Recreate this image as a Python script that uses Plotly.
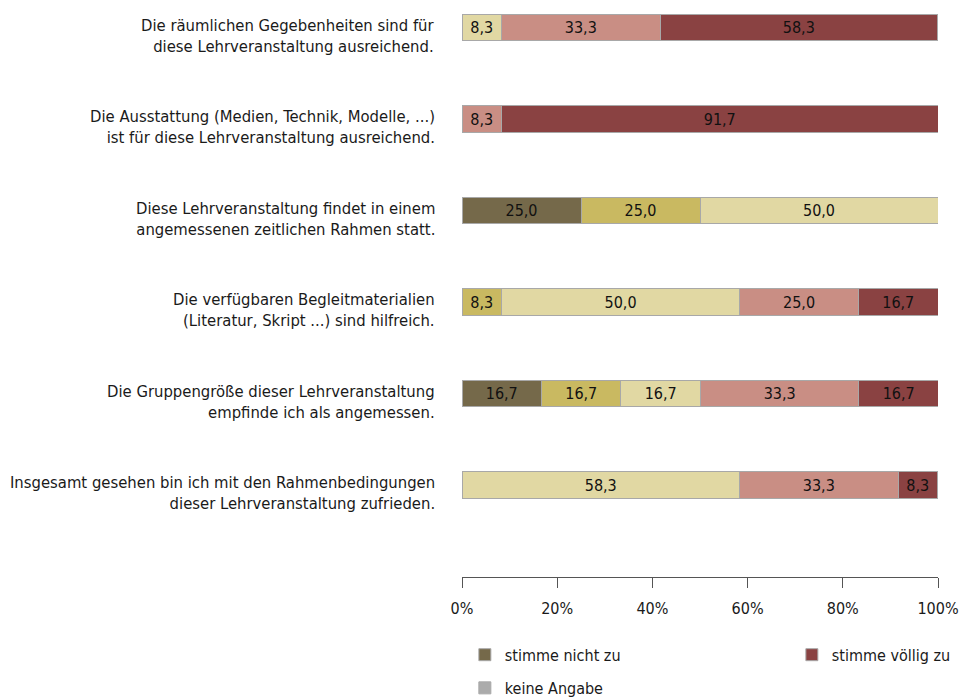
import plotly.graph_objects as go

questions = [
    "Die räumlichen Gegebenheiten sind für<br>diese Lehrveranstaltung ausreichend.",
    "Die Ausstattung (Medien, Technik, Modelle, ...)<br>ist für diese Lehrveranstaltung ausreichend.",
    "Diese Lehrveranstaltung findet in einem<br>angemessenen zeitlichen Rahmen statt.",
    "Die verfügbaren Begleitmaterialien<br>(Literatur, Skript ...) sind hilfreich.",
    "Die Gruppengröße dieser Lehrveranstaltung<br>empfinde ich als angemessen.",
    "Insgesamt gesehen bin ich mit den Rahmenbedingungen<br>dieser Lehrveranstaltung zufrieden.",
]
cat_ids = ["q1", "q2", "q3", "q4", "q5", "q6"]

series_names = ["stimme nicht zu", "stimme eher nicht zu", "teils/teils",
                "stimme eher zu", "stimme völlig zu", "keine Angabe"]
nicht_zu = [None, None, 25.0, None, 16.7, None]
eher_nicht = [None, None, 25.0, 8.3, 16.7, None]
teils = [8.3, None, 50.0, 50.0, 16.7, 58.3]
eher_zu = [33.3, 8.3, None, 25.0, 33.3, 33.3]
voellig = [58.3, 91.7, None, 16.7, 16.7, 8.3]
keine = [None, None, None, None, None, None]
series_values = [nicht_zu, eher_nicht, teils, eher_zu, voellig, keine]
colors = ["#75694a", "#c9b961", "#e1d8a3", "#c98e84", "#8a4242", "#ababab"]
legend_of = ["legend", None, None, None, "legend2", "legend3"]
x_ticks = [0, 20, 40, 60, 80, 100]
x_tick_text = ["0%", "20%", "40%", "60%", "80%", "100%"]

FONT = "DejaVu Sans Condensed, sans-serif"

fig = go.Figure()
for name, vals, col, leg in zip(series_names, series_values, colors, legend_of):
    fig.add_trace(go.Bar(
        y=cat_ids, x=vals, name=name, orientation="h",
        marker=dict(color=col, line=dict(color="#a8a8a8", width=1)),
        width=0.29,
        texttemplate="%{x:.1f}", textposition="inside",
        insidetextanchor="middle", constraintext="none",
        textfont=dict(family=FONT, size=16, color="#111111"),
        showlegend=leg is not None,
        legend=leg if leg else "legend",
        hoverinfo="skip",
    ))

for cid, q in zip(cat_ids, questions):
    fig.add_annotation(
        x=0, xref="paper", y=cid, yref="y", text=q, showarrow=False,
        xanchor="right", align="right", xshift=-25, yshift=-8,
        font=dict(family=FONT, size=16.5, color="#1a1a1a"),
    )

leg_common = dict(font=dict(family=FONT, size=16, color="#1a1a1a"),
                  bgcolor="rgba(0,0,0,0)", yanchor="middle", xanchor="left",
                  orientation="h", itemclick=False)

fig.update_layout(
    width=962, height=700,
    margin=dict(l=462, r=24, t=5, b=123, autoexpand=False),
    paper_bgcolor="white", plot_bgcolor="white",
    barmode="stack", bargap=0.7,
    separators=", ",
    font=dict(family=FONT, size=16, color="#1a1a1a"),
    xaxis=dict(range=[0, 100], tickvals=x_ticks, ticktext=x_tick_text,
               showgrid=False, zeroline=False, showline=True,
               linecolor="#555555", linewidth=1, ticks="outside",
               ticklen=10, tickcolor="#555555", ticklabelstandoff=7,
               tickfont=dict(family=FONT, size=16, color="#1a1a1a"),
               automargin=False, fixedrange=True),
    yaxis=dict(categoryorder="array", categoryarray=cat_ids,
               range=[6.005, -0.246], showticklabels=False, showgrid=False,
               zeroline=False, showline=False, automargin=False,
               fixedrange=True),
    legend=dict(x=0.006, y=-0.136, **leg_common),
    legend2=dict(x=0.693, y=-0.136, **leg_common),
    legend3=dict(x=0.006, y=-0.194, **leg_common),
)

fig.write_html("out.html", config={"displayModeBar": False},
               post_script="document.body.style.margin='0';")
